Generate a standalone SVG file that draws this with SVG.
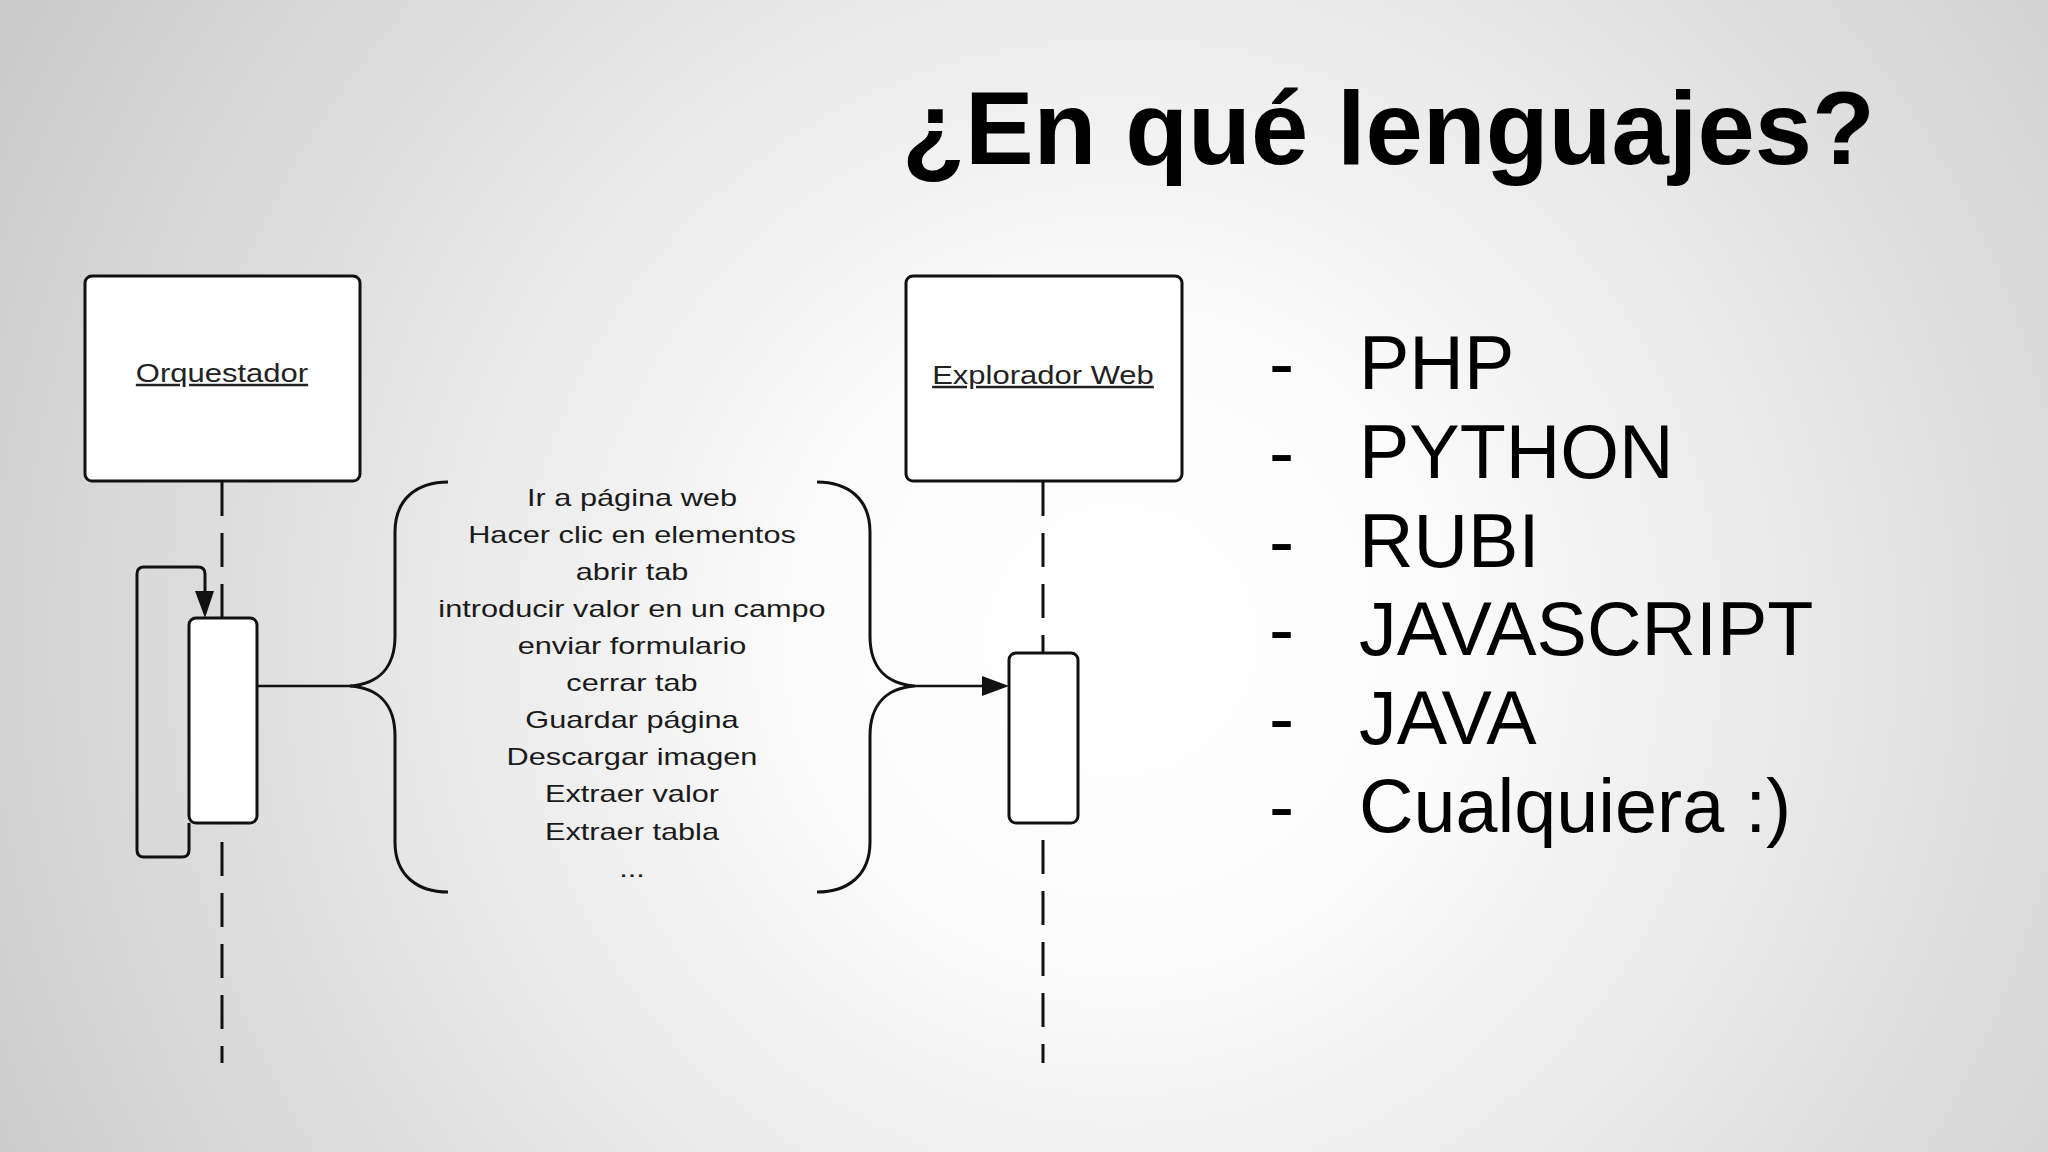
<svg xmlns="http://www.w3.org/2000/svg" width="2048" height="1152" viewBox="0 0 2048 1152">
  <defs>
    <radialGradient id="bg" gradientUnits="userSpaceOnUse" cx="1120" cy="640" r="1300">
      <stop offset="0" stop-color="#ffffff"/>
      <stop offset="0.25" stop-color="#fbfbfb"/>
      <stop offset="1" stop-color="#c9c9c9"/>
    </radialGradient>
    <style>
      .box { fill: #ffffff; stroke: #111111; stroke-width: 3; }
      .line { fill: none; stroke: #111111; stroke-width: 3; }
      .thin { fill: none; stroke: #111111; stroke-width: 2.5; }
      .dash { fill: none; stroke: #111111; stroke-width: 3; stroke-dasharray: 34 17; }
      .head { fill: #111111; stroke: none; }
      .lbl { font-family: "Liberation Sans", Arial, sans-serif; font-size: 25px; fill: #222222; text-anchor: middle; text-decoration: underline; }
      .msg { font-family: "Liberation Sans", Arial, sans-serif; font-size: 24px; fill: #1a1a1a; text-anchor: middle; }
      .title { font-family: "Liberation Sans", Arial, sans-serif; font-size: 103px; font-weight: bold; fill: #000000; }
      .item { font-family: "Liberation Sans", Arial, sans-serif; font-size: 75.5px; fill: #000000; }
    </style>
  </defs>

  <rect x="0" y="0" width="2048" height="1152" fill="url(#bg)"/>

  <text class="title" x="902" y="164">¿En qué lenguajes?</text>

  <g id="orquestador">
    <rect class="box" x="85" y="276" width="275" height="205" rx="7"/>
    <text class="lbl" transform="translate(222,382) scale(1.24,1)" x="0" y="0">Orquestador</text>
  </g>

  <g id="explorador">
    <rect class="box" x="906" y="276" width="276" height="205" rx="7"/>
    <text class="lbl" transform="translate(1043,384) scale(1.24,1)" x="0" y="0">Explorador Web</text>
  </g>

  <g id="connectors">
    <!-- lifelines -->
    <path class="dash" d="M222,482 L222,617"/>
    <path class="dash" d="M222,842 L222,1063"/>
    <path class="dash" d="M1043,482 L1043,652"/>
    <path class="dash" d="M1043,840 L1043,1063"/>
    <!-- self loop -->
    <path class="line" d="M189,823 L189,850 Q189,857 182,857 L144,857 Q137,857 137,850 L137,574 Q137,567 144,567 L198,567 Q205,567 205,574 L205,593"/>
    <polygon class="head" points="195,591 214,591 205,618"/>
    <!-- message line left -->
    <path class="thin" d="M257,686 L352,686"/>
    <!-- left brace -->
    <path class="line" d="M448,482 C418,482 395,498 395,532 L395,636 C395,668 378,684 350,686 C378,688 395,704 395,736 L395,842 C395,876 418,892 448,892"/>
    <!-- right brace -->
    <path class="line" d="M817,482 C847,482 870,498 870,532 L870,636 C870,668 887,684 915,686 C887,688 870,704 870,736 L870,842 C870,876 847,892 817,892"/>
    <!-- message line right with arrow -->
    <path class="thin" d="M915,686 L984,686"/>
    <polygon class="head" points="982,676 982,696 1009,686"/>
  </g>

  <g id="activation-orquestador">
    <rect class="box" x="189" y="618" width="68" height="205" rx="7"/>
  </g>
  <g id="activation-explorador">
    <rect class="box" x="1009" y="653" width="69" height="170" rx="7"/>
  </g>

  <g id="operations" transform="translate(632,0) scale(1.28,1)">
    <text class="msg" x="0" y="506">Ir a página web</text>
    <text class="msg" x="0" y="543">Hacer clic en elementos</text>
    <text class="msg" x="0" y="580">abrir tab</text>
    <text class="msg" x="0" y="617">introducir valor en un campo</text>
    <text class="msg" x="0" y="654">enviar formulario</text>
    <text class="msg" x="0" y="691">cerrar tab</text>
    <text class="msg" x="0" y="728">Guardar página</text>
    <text class="msg" x="0" y="765">Descargar imagen</text>
    <text class="msg" x="0" y="802">Extraer valor</text>
    <text class="msg" x="0" y="840">Extraer tabla</text>
    <text class="msg" x="0" y="877">...</text>
  </g>

  <g id="languages">
    <text class="item" x="1269" y="389">-</text>
    <text class="item" x="1359" y="389">PHP</text>
    <text class="item" x="1269" y="478">-</text>
    <text class="item" x="1359" y="478">PYTHON</text>
    <text class="item" x="1269" y="567">-</text>
    <text class="item" x="1359" y="567">RUBI</text>
    <text class="item" x="1269" y="655">-</text>
    <text class="item" x="1359" y="655">JAVASCRIPT</text>
    <text class="item" x="1269" y="744">-</text>
    <text class="item" x="1359" y="744">JAVA</text>
    <text class="item" x="1269" y="832">-</text>
    <text class="item" x="1359" y="832">Cualquiera :)</text>
  </g>
</svg>
